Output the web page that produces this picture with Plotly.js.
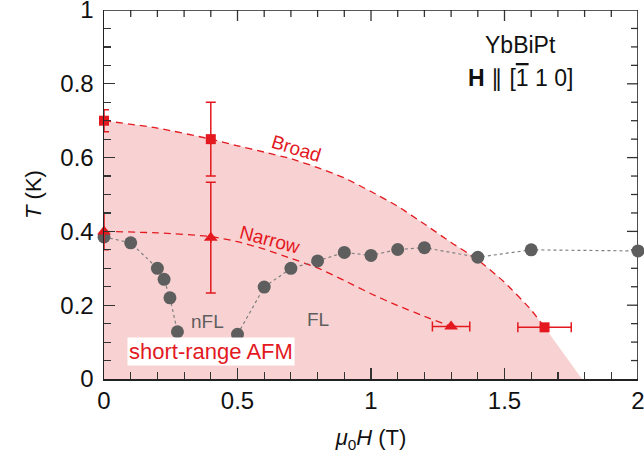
<!DOCTYPE html>
<html>
<head>
<meta charset="utf-8">
<script src="https://cdn.plot.ly/plotly-3.0.1.min.js"></script>
<style>html,body{margin:0;padding:0;background:#fff;overflow:hidden}#plot{width:644px;height:461px;overflow:hidden}</style>
</head>
<body>
<div id="plot"></div>
<script>
// Gray circles (crossover), two branches
const H_gray_low = [0, 0.1, 0.2, 0.225, 0.247, 0.275];
const T_gray_low = [0.385, 0.369, 0.30, 0.27, 0.22, 0.128];
const H_gray_high = [0.5, 0.6, 0.7, 0.8, 0.9, 1.0, 1.1, 1.2, 1.4, 1.6, 2.0];
const T_gray_high = [0.121, 0.249, 0.30, 0.32, 0.343, 0.335, 0.351, 0.356, 0.33, 0.35, 0.347];

// Broad (squares) with error bars
const H_broad = [0, 0.4, 1.65];
const T_broad = [0.70, 0.65, 0.14];
const errT_broad = [0.03, 0.10, 0];
const errH_broad = [0, 0, 0.10];

// Narrow (triangles) with error bars
const H_narrow = [0, 0.4, 1.3];
const T_narrow = [0.40, 0.383, 0.142];
const errT_narrow = [0.05, 0.15, 0];
const errH_narrow = [0, 0, 0.07];

// Dashed guide curves
const H_broad_line = [0, 0.2, 0.4, 0.5, 0.6, 0.7, 0.8, 0.9, 1.0, 1.1, 1.2, 1.3, 1.4, 1.5, 1.6, 1.65];
const T_broad_line = [0.70, 0.68, 0.65, 0.632, 0.615, 0.597, 0.573, 0.545, 0.508, 0.468, 0.42, 0.37, 0.323, 0.262, 0.187, 0.14];
const H_narrow_line = [0, 0.2, 0.4, 0.5, 0.6, 0.7, 0.8, 0.9, 1.0, 1.1, 1.2, 1.3];
const T_narrow_line = [0.40, 0.396, 0.386, 0.372, 0.352, 0.327, 0.301, 0.267, 0.231, 0.199, 0.17, 0.142];

// Shaded AFM region boundary (broad curve continued to the axis)
const H_fill = H_broad_line.concat([1.79]);
const T_fill = T_broad_line.concat([0]);

// Axis ticks
const H_range = [0, 2];
const T_range = [0, 1];
const H_ticks = [0, 0.5, 1, 1.5, 2];
const H_tick_labels = ['0', '0.5', '1', '1.5', '2'];
const T_ticks = [0, 0.2, 0.4, 0.6, 0.8, 1];
const T_tick_labels = ['0', '0.2', '0.4', '0.6', '0.8', '1'];
const H_minor = [0.1, 0.2, 0.3, 0.4, 0.6, 0.7, 0.8, 0.9, 1.1, 1.2, 1.3, 1.4, 1.6, 1.7, 1.8, 1.9];
const T_minor = [0.05, 0.1, 0.15, 0.25, 0.3, 0.35, 0.45, 0.5, 0.55, 0.65, 0.7, 0.75, 0.85, 0.9, 0.95];

const RED = '#e3191f';
const GRAY = '#5e5e5e';
const FONT = 'Liberation Sans, Arial, sans-serif';
const MAJ = 11, MIN = 7;
const W = 644, HT = 461, M = {l: 104, r: 6, t: 10, b: 82};

// Mirrored frame (top/right) built from the axis ranges; tick lengths in pixels converted to data units
const tPerPx = (T_range[1] - T_range[0]) / (HT - M.t - M.b);
const hPerPx = (H_range[1] - H_range[0]) / (W - M.l - M.r);
const frameX = [H_range[0], H_range[1], H_range[1]];
const frameY = [T_range[1], T_range[1], T_range[0]];
const mtX = [], mtY = [];
H_ticks.slice(1, -1).forEach(h => { mtX.push(h, h, null); mtY.push(T_range[1], T_range[1] - MAJ * tPerPx, null); });
H_minor.forEach(h => { mtX.push(h, h, null); mtY.push(T_range[1], T_range[1] - MIN * tPerPx, null); });
T_ticks.slice(1, -1).forEach(t => { mtX.push(H_range[1], H_range[1] - MAJ * hPerPx, null); mtY.push(t, t, null); });
T_minor.forEach(t => { mtX.push(H_range[1], H_range[1] - MIN * hPerPx, null); mtY.push(t, t, null); });

const traces = [
  {x: H_fill, y: T_fill, mode: 'lines', fill: 'tozeroy', fillcolor: '#f8d2d2',
   line: {width: 0, color: 'rgba(0,0,0,0)', shape: 'spline', smoothing: 0.6}, hoverinfo: 'skip'},
  {x: H_broad_line, y: T_broad_line, mode: 'lines', line: {color: RED, width: 1.3, dash: '7px,5px', shape: 'spline', smoothing: 0.6}},
  {x: H_narrow_line, y: T_narrow_line, mode: 'lines', line: {color: RED, width: 1.3, dash: '7px,5px', shape: 'spline', smoothing: 0.6}},
  {x: mtX, y: mtY, mode: 'lines', line: {color: '#333', width: 1.3}, connectgaps: false, cliponaxis: false, hoverinfo: 'skip'},
  {x: frameX, y: frameY, mode: 'lines', line: {color: '#222', width: 1.6}, cliponaxis: false, hoverinfo: 'skip'},
  {x: H_gray_low, y: T_gray_low, mode: 'lines+markers', line: {color: '#808080', width: 1.2, dash: 'dot'},
   marker: {color: GRAY, size: 13}, cliponaxis: false},
  {x: H_gray_high, y: T_gray_high, mode: 'lines+markers', line: {color: '#808080', width: 1.2, dash: 'dot'},
   marker: {color: GRAY, size: 13}, cliponaxis: false},
  {x: H_broad, y: T_broad, mode: 'markers', marker: {color: RED, size: 10, symbol: 'square'},
   error_y: {type: 'data', array: errT_broad, color: RED, thickness: 1.5, width: 5},
   error_x: {type: 'data', array: errH_broad, color: RED, thickness: 1.5, width: 5},
   cliponaxis: false},
  {x: H_narrow, y: T_narrow, mode: 'markers', marker: {color: RED, size: 12, symbol: 'triangle-up'},
   error_y: {type: 'data', array: errT_narrow, color: RED, thickness: 1.5, width: 5},
   error_x: {type: 'data', array: errH_narrow, color: RED, thickness: 1.5, width: 5},
   cliponaxis: false}
];

const axisCommon = {
  showline: true, linecolor: '#222', linewidth: 1.5,
  ticks: 'inside', ticklen: MAJ, tickwidth: 1.3, tickcolor: '#333',
  showgrid: false, zeroline: false, ticklabeloverflow: 'allow',
  tickfont: {family: FONT, size: 24, color: '#111'}
};
const minorX = {dtick: 0.1, ticks: 'inside', ticklen: MIN, tickwidth: 1.2, tickcolor: '#333', showgrid: false};
const minorY = {dtick: 0.05, ticks: 'inside', ticklen: MIN, tickwidth: 1.2, tickcolor: '#333', showgrid: false};

const layout = {
  width: W, height: HT,
  margin: M,
  paper_bgcolor: '#fff', plot_bgcolor: '#fff',
  showlegend: false,
  font: {family: FONT, color: '#111'},
  xaxis: Object.assign({}, axisCommon, {
    range: H_range, tickvals: H_ticks, ticktext: H_tick_labels, minor: minorX,
    title: {text: '<i>μ</i><sub>0</sub><i>H</i> (T)', font: {family: FONT, size: 22, color: '#111'}, standoff: 16}
  }),
  yaxis: Object.assign({}, axisCommon, {
    range: T_range, tickvals: T_ticks, ticktext: T_tick_labels, ticklabelstandoff: 4, minor: minorY,
    title: {text: '<i>T</i> (K)', font: {family: FONT, size: 22, color: '#111'}, standoff: 12}
  }),
  annotations: [
    {x: 0.72, y: 0.625, xref: 'x', yref: 'y', text: 'Broad', showarrow: false, textangle: 17,
     font: {family: FONT, size: 19, color: RED}},
    {x: 0.62, y: 0.377, xref: 'x', yref: 'y', text: 'Narrow', showarrow: false, textangle: 15,
     font: {family: FONT, size: 19, color: RED}},
    {x: 0.387, y: 0.155, xref: 'x', yref: 'y', text: 'nFL', showarrow: false,
     font: {family: FONT, size: 19, color: '#5e5e5e'}},
    {x: 0.80, y: 0.16, xref: 'x', yref: 'y', text: 'FL', showarrow: false,
     font: {family: FONT, size: 19, color: '#5e5e5e'}},
    {x: 0.40, y: 0.074, xref: 'x', yref: 'y', text: 'short-range AFM', showarrow: false,
     bgcolor: '#fff', borderpad: 1, font: {family: FONT, size: 22, color: RED}},
    {x: 0.78, y: 0.905, xref: 'paper', yref: 'paper', xanchor: 'center', yanchor: 'middle', text: 'YbBiPt', showarrow: false,
     font: {family: FONT, size: 23, color: '#111'}},
    {x: 0.78, y: 0.815, xref: 'paper', yref: 'paper', xanchor: 'center', yanchor: 'middle',
     text: '<b>H</b> ∥ [<span style="text-decoration:overline">1</span> 1 0]', showarrow: false,
     font: {family: FONT, size: 23, color: '#111'}}
  ]
};

Plotly.newPlot('plot', traces, layout, {displayModeBar: false, staticPlot: true});
</script>
</body>
</html>
